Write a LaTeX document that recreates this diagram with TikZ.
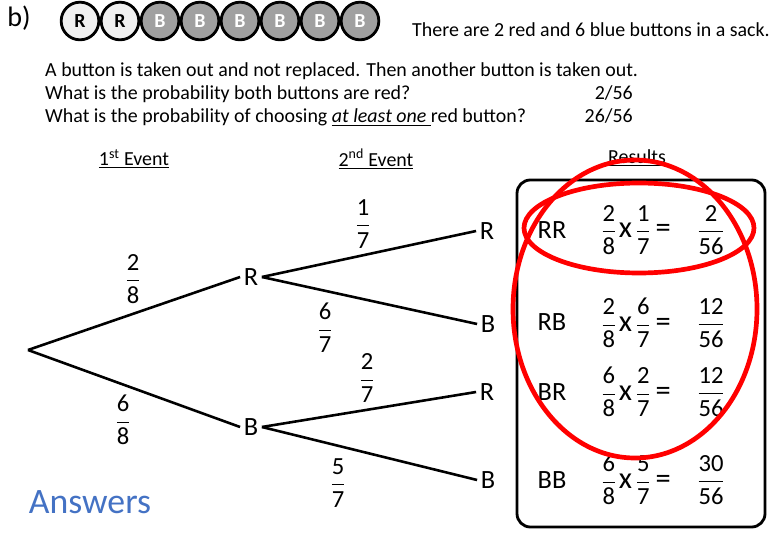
\documentclass[tikz,border=0pt]{standalone}
\usepackage{fontspec}
\setmainfont{Carlito}
\usetikzlibrary{positioning}
\definecolor{btngray}{RGB}{160,160,160}
\definecolor{btnlight}{RGB}{240,240,240}
\definecolor{ansblue}{RGB}{68,114,196}
\newcommand{\pfrac}[2]{$\displaystyle\frac{\mbox{#1}}{\mbox{#2}}$}
\newcommand{\bigsym}[1]{{\fontsize{26}{26}\selectfont #1}}

\begin{document}
\begin{tikzpicture}[
    x=0.03cm, y=-0.03cm,
    button/.style={circle, draw=black, line width=2.4pt, minimum size=1.13cm, inner sep=0pt, font=\fontsize{17}{17}\selectfont\bfseries},
    redbtn/.style={button, fill=btnlight},
    bluebtn/.style={button, fill=btngray, text=white},
    txt/.style={font=\fontsize{17}{20}\selectfont, inner sep=0pt},
    outcome/.style={font=\fontsize{22.5}{26}\selectfont, inner sep=3pt},
    prob/.style={font=\fontsize{21}{24}\selectfont, inner sep=0pt},
    calc/.style={font=\fontsize{21}{24}\selectfont, inner sep=0pt},
    branch/.style={line width=2.2pt},
    resultbox/.style={draw=black, line width=2.4pt, rounded corners=0.4cm},
    ring/.style={draw=red, line width=4pt}
]
\useasboundingbox (0,0) rectangle (780,540);

% header
\node[font=\fontsize{24}{26}\selectfont, inner sep=0pt] (part) at (19,18) {b)};
\foreach \i in {1,2}
    \node[redbtn] (btn\i) at ({40+40*\i},21) {R};
\foreach \i in {3,...,8}
    \node[bluebtn] (btn\i) at ({40+40*\i},21) {B};
\node[txt, anchor=west] (sack) at (412,30) {There are 2 red and 6 blue buttons in a sack.};

% question
\node[txt, anchor=base west] (q1) at (45,77) {A button is taken out and not replaced. Then another button is taken out.};
\node[txt, anchor=base west] (q2) at (45,100) {What is the probability both buttons are red?};
\node[txt, anchor=base west] (q3) at (45,123) {What is the probability of choosing \underline{\textit{at least one} }red button?};
\node[txt, anchor=base east] (a2) at (633,100) {2/56};
\node[txt, anchor=base east] (a3) at (633,123) {26/56};

% column heads
\node[txt] (ev1) at (134,159) {\underline{1\textsuperscript{st} Event}};
\node[txt] (ev2) at (376,159) {\underline{2\textsuperscript{nd} Event}};
\node[txt] (res) at (637,158) {\underline{Results}};

% tree
\coordinate (root) at (28,350);
\node[outcome] (r1) at (251,277) {R};
\node[outcome] (b1) at (251,427) {B};
\node[outcome] (r1r) at (487,231) {R};
\node[outcome] (r1b) at (488,324) {B};
\node[outcome] (b1r) at (487,392) {R};
\node[outcome] (b1b) at (488,480) {B};

\draw[branch] (root) -- (r1.west);
\draw[branch] (root) -- (b1.west);
\draw[branch] (r1.east) -- (r1r.west);
\draw[branch] (r1.east) -- (r1b.west);
\draw[branch] (b1.east) -- (b1r.west);
\draw[branch] (b1.east) -- (b1b.west);

\node[prob] (p28) at (133,279) {\pfrac{2}{8}};
\node[prob] (p68) at (123,420) {\pfrac{6}{8}};
\node[prob] (p17) at (363,224) {\pfrac{1}{7}};
\node[prob] (p67) at (325,328) {\pfrac{6}{7}};
\node[prob] (p27) at (367,378) {\pfrac{2}{7}};
\node[prob] (p57) at (338,483) {\pfrac{5}{7}};

% results
\draw[resultbox] (517,180) rectangle (765,527);
\node[outcome] (rr) at (552,230) {RR};
\node[outcome] (rb) at (552,322) {RB};
\node[outcome] (br) at (552,392) {BR};
\node[outcome] (bb) at (552,480) {BB};
\node[calc] (crr) at (636,230) {\pfrac{2}{8}\hspace{2pt}\bigsym{x}\hspace{3pt}\pfrac{1}{7}\hspace{4pt}\bigsym{=}};
\node[calc] (crb) at (636,323) {\pfrac{2}{8}\hspace{2pt}\bigsym{x}\hspace{3pt}\pfrac{6}{7}\hspace{4pt}\bigsym{=}};
\node[calc] (cbr) at (636,392) {\pfrac{6}{8}\hspace{2pt}\bigsym{x}\hspace{3pt}\pfrac{2}{7}\hspace{4pt}\bigsym{=}};
\node[calc] (cbb) at (636,480) {\pfrac{6}{8}\hspace{2pt}\bigsym{x}\hspace{3pt}\pfrac{5}{7}\hspace{4pt}\bigsym{=}};
\node[calc] (vrr) at (711,230) {\pfrac{2}{56}};
\node[calc] (vrb) at (711,323) {\pfrac{12}{56}};
\node[calc] (vbr) at (711,392) {\pfrac{12}{56}};
\node[calc] (vbb) at (711,480) {\pfrac{30}{56}};

% red rings
\draw[ring] (639,228) ellipse [x radius=115, y radius=45];
\draw[ring] (635,309) ellipse [x radius=122, y radius=149];

\node[font=\fontsize{30.5}{32}\selectfont, text=ansblue, inner sep=0pt] (ans) at (90,502) {Answers};
\end{tikzpicture}
\end{document}
